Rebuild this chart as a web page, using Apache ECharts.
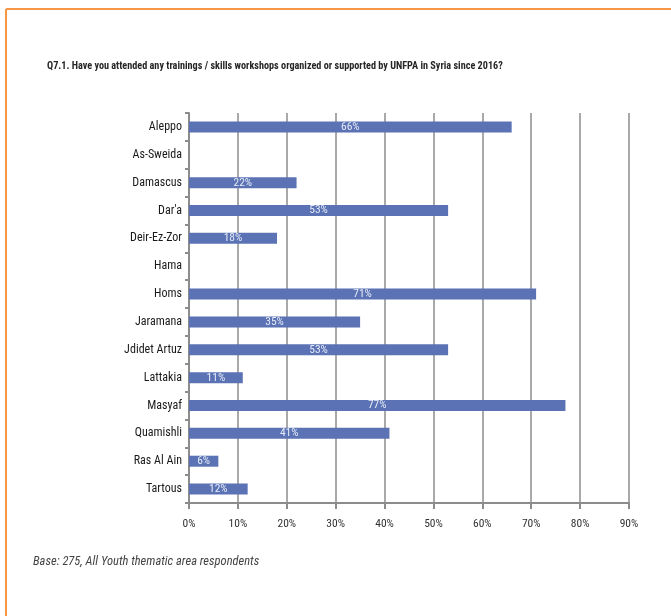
<!DOCTYPE html>
<html>
<head>
<meta charset="utf-8">
<script src="https://cdn.jsdelivr.net/npm/echarts@6/dist/echarts.min.js"></script>
<style>
  html, body { margin: 0; padding: 0; background: #fff; }
  #chart { width: 671px; height: 616px; }
</style>
</head>
<body>
<div id="chart"></div>
<script>
// Governorates / areas surveyed, top to bottom
const categories = ['Aleppo', 'As-Sweida', 'Damascus', "Dar'a", 'Deir-Ez-Zor', 'Hama', 'Homs',
  'Jaramana', 'Jdidet Artuz', 'Lattakia', 'Masyaf', 'Quamishli', 'Ras Al Ain', 'Tartous'];
// Share of respondents who attended a training (%)
const attended = [66, 0, 22, 53, 18, 0, 71, 35, 53, 11, 77, 41, 6, 12];
// X axis range (%)
const axisMin = 0, axisMax = 90, axisStep = 10;

const titleText = 'Q7.1. Have you attended any trainings / skills workshops organized or supported by UNFPA in Syria since 2016?';
const baseText = 'Base: 275, All Youth thematic area respondents';

const condensed = '"Roboto Condensed", Carlito, sans-serif';
const gridGray = '#8c8c8c';

const chart = echarts.init(document.getElementById('chart'), null, { renderer: 'canvas' });
chart.setOption({
  backgroundColor: '#ffffff',
  animation: false,
  title: {
    text: titleText,
    left: 47,
    top: 61,
    padding: 0,
    textStyle: { fontFamily: condensed, fontSize: 10.2, fontWeight: 'bold', color: '#262626' }
  },
  graphic: [
    // orange frame around the panel (top and left edges)
    { type: 'line', shape: { x1: 6, y1: 9, x2: 671, y2: 9 }, style: { stroke: '#f79646', lineWidth: 2 } },
    { type: 'line', shape: { x1: 6, y1: 9, x2: 6, y2: 616 }, style: { stroke: '#f79646', lineWidth: 2 } },
    {
      type: 'text', left: 33, top: 555,
      style: { text: baseText, fontFamily: condensed, fontStyle: 'italic', fontSize: 12.5, fill: '#444' }
    }
  ],
  grid: { left: 189, right: 42, top: 113, bottom: 113, containLabel: false },
  xAxis: {
    type: 'value',
    min: axisMin, max: axisMax, interval: axisStep,
    axisLine: { show: true, lineStyle: { color: gridGray, width: 2 } },
    axisTick: { show: true, length: 6, lineStyle: { color: gridGray, width: 2 } },
    splitLine: { show: true, lineStyle: { color: gridGray, width: 1.5 } },
    axisLabel: {
      formatter: '{value}%', margin: 15,
      fontFamily: condensed, fontSize: 11.5, color: '#333'
    }
  },
  yAxis: {
    type: 'category',
    data: categories,
    inverse: true,
    axisLine: { show: true, lineStyle: { color: gridGray, width: 2 } },
    axisTick: { show: true, length: 4, lineStyle: { color: gridGray, width: 2 } },
    axisLabel: { margin: 7, fontFamily: condensed, fontSize: 12, color: '#1a1a1a' }
  },
  series: [{
    type: 'bar',
    data: attended,
    barWidth: 11,
    itemStyle: { color: '#5b73b5' },
    label: {
      show: true,
      position: 'inside',
      formatter: p => (p.value > 0 ? p.value + '%' : ''),
      fontFamily: condensed, fontSize: 11.5, color: '#e4ebf7'
    }
  }]
});
</script>
</body>
</html>
